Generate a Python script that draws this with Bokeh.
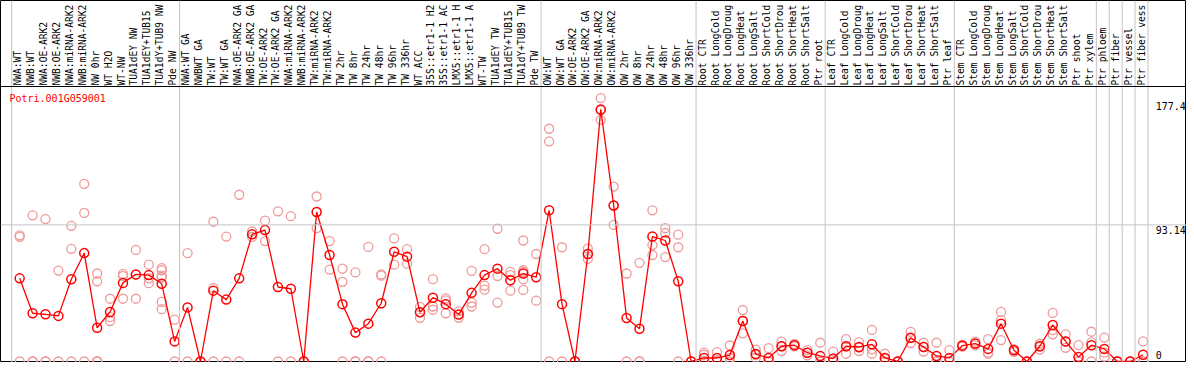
import math
from bokeh.plotting import figure
from bokeh.models import Range1d, Span, Label, ColumnDataSource
from bokeh.core.properties import value
from bokeh.embed import file_html
from bokeh.resources import INLINE

# ---------------- data ----------------
gene_id = "Potri.001G059001"

labels = [
    "NWA:WT", "NWB:WT", "NWA:OE-ARK2", "NWB:OE-ARK2", "NWA:miRNA-ARK2", "NWB:miRNA-ARK2",
    "NW 0hr", "WT H2O", "WT-NW", "TUA1dEY NW", "TUA1dEY+TUB15", "TUA1dY+TUB9 NW", "Pde NW",
    "NWA:WT GA", "NWBWT GA", "TW:WT", "TW:WT GA", "NWA:OE-ARK2 GA", "NWB:OE-ARK2 GA",
    "TW:OE-ARK2", "TW:OE-ARK2 GA", "NWA:miRNA-ARK2", "NWB:miRNA-ARK2", "TW:miRNA-ARK2",
    "TW:miRNA-ARK2", "TW 2hr", "TW 8hr", "TW 24hr", "TW 48hr", "TW 96hr", "TW 336hr",
    "WT ACC", "35S::etr1-1 H2", "35S::etr1-1 AC", "LMX5::etr1-1 H", "LMX5::etr1-1 A",
    "WT-TW", "TUA1dEY TW", "TUA1dEY+TUB15", "TUA1dY+TUB9 TW", "Pde TW",
    "OW:WT", "OW:WT GA", "OW:OE-ARK2", "OW:OE-ARK2 GA", "OW:miRNA-ARK2", "OW:miRNA-ARK2",
    "OW 2hr", "OW 8hr", "OW 24hr", "OW 48hr", "OW 96hr", "OW 336hr",
    "Root CTR", "Root LongCold", "Root LongDroug", "Root LongHeat", "Root LongSalt",
    "Root ShortCold", "Root ShortDrou", "Root ShortHeat", "Root ShortSalt", "Ptr root",
    "Leaf CTR", "Leaf LongCold", "Leaf LongDroug", "Leaf LongHeat", "Leaf LongSalt",
    "Leaf ShortCold", "Leaf ShortDrou", "Leaf ShortHeat", "Leaf ShortSalt", "Ptr leaf",
    "Stem CTR", "Stem LongCold", "Stem LongDroug", "Stem LongHeat", "Stem LongSalt",
    "Stem ShortCold", "Stem ShortDrou", "Stem ShortHeat", "Stem ShortSalt", "Ptr shoot",
    "Ptr xylem", "Ptr phloem", "Ptr fiber", "Ptr vessel", "Ptr fiber vess",
]

# number of samples in each bordered group
group_sizes = [13, 28, 12, 10, 10, 11, 1, 1, 1, 1]

means = [
    56.7, 32.9, 32.2, 31.1, 56.1, 73.9, 23.0, 33.8, 53.6, 59.4,
    58.9, 53.0, 13.7, 36.9, 0.0, 48.3, 42.2, 56.7, 86.7, 89.6,
    50.8, 49.6, 0.0, 101.9, 72.6, 39.1, 19.7, 25.8, 39.7, 74.8,
    71.5, 33.6, 43.5, 39.1, 32.0, 46.8, 58.9, 63.3, 55.4, 60.0,
    57.5, 103.1, 39.1, 0.0, 73.3, 171.9, 106.4, 29.6, 22.3, 85.2,
    82.5, 54.7, 0.0, 2.4, 2.4, 4.4, 27.6, 5.1, 2.4, 10.4,
    11.1, 6.0, 3.8, 2.0, 10.4, 9.9, 11.7, 2.4, 0.0, 16.2,
    9.9, 3.8, 2.4, 10.8, 12.2, 8.6, 25.8, 7.7, 0.0, 10.4,
    24.9, 13.7, 3.1, 11.1, 8.6, 0.0, 0.0, 4.6,
]

replicates = [
    [86.0, 85.0, 0], [99.7, 0, 0], [97.1, 0, 0], [62.0, 0], [92.5, 76.8, 0],
    [121.1, 101.3, 0], [60.0, 54.7, 0, 0, 0], [42.8, 30.2, 27.6], [58.3, 42.8, 59.7],
    [76.1, 42.8, 59.3], [66.0, 56.7, 53.4], [63.7, 62.2, 57.4, 58.5, 40.6, 35.7],
    [28.5, 0], [73.9, 0], [0, 0], [95.3, 50.1, 0], [85.2, 0], [113.7, 0],
    [88.7, 84.9], [96.0, 82.1], [102.4, 0], [99.1, 0], [0, 0], [112.5, 90.9],
    [82.1, 62.7], [63.3, 54.3, 0], [60.7, 0, 0], [78.1, 0, 0], [59.4, 58.5, 0],
    [83.9, 66.0], [76.6, 66.7], [37.3, 29.8, 33.7], [56.1, 37.5, 35.3],
    [43.0, 41.7, 32.9], [34.2, 29.8], [61.8, 40.2, 37.5], [76.6, 51.8, 49.0],
    [90.5, 58.3, 40.2], [61.1, 58.9, 48.3], [82.5, 62.2, 61.1, 56.1, 48.8],
    [73.3, 41.5], [158.7, 150.1, 0], [77.9, 0], [0, 0], [77.0, 73.3, 70.0],
    [179.6, 171.3, 164.8], [119.2, 106.4, 93.1], [60.0, 0], [67.3, 0, 0],
    [103.1, 79.4, 72.6], [90.9, 87.6, 71.2], [86.5, 77.9, 0], [0, 0],
    [6.0, 4.6, 0.5], [6.4, 1.0, 0], [10.9, 2.4, 0], [35.1, 27.6, 19.2],
    [8.1, 4.6, 2.6], [9.1, 0, 0], [13.5, 10.4, 7.1], [12.0, 11.1, 10.3],
    [7.7, 6.0, 4.2], [12.8, 0, 0], [6.8, 0, 0], [15.2, 10.4, 5.3],
    [13.2, 9.5, 7.1], [21.5, 8.3, 5.3], [5.3, 2.0, 0], [0, 0],
    [20.2, 16.0, 12.6], [12.8, 10.0, 6.8], [12.8, 0, 0], [7.7, 0, 0],
    [11.5, 10.8, 10.1], [13.5, 12.2, 11.0], [15.2, 6.0, 5.3], [33.8, 28.0, 14.6],
    [8.5, 7.7, 6.5], [0, 0], [12.1, 10.4, 8.1], [33.1, 21.4, 18.5],
    [18.5, 13.5, 9.3], [11.1, 0, 0], [20.3, 13.0, 0], [16.3, 6.0, 3.3],
    [0, 0], [0, 0], [13.7, 0, 0],
]

tick_values = [0, 93.14, 177.4]
tick_labels = ["0", "93.14", "177.4"]

# ---------------- figure ----------------
W, H = 1186, 362
idx = list(range(len(labels)))

p = figure(
    width=W, height=H, output_backend="svg", toolbar_location=None,
    x_axis_type=None, y_axis_type=None,
    x_range=Range1d(-1.4846, 90.3615), y_range=Range1d(-0.682, 246.14),
    min_border=0, outline_line_color="black", outline_line_width=1,
    background_fill_color="white", border_fill_color="white",
)

GRID = "#c4c4c4"
RED = "#ff0000"
PINK = "#ee9a9a"
FONT = "DejaVu Sans Mono"

# group separator lines (vertical, full height)
start = 0
bounds = [0]
for g in group_sizes:
    start += g
    bounds.append(start)
for b in bounds:
    p.add_layout(Span(location=b - 0.62, dimension="height", line_color=GRID, line_width=1))

# horizontal grid line at middle tick
p.add_layout(Span(location=tick_values[1], dimension="width", line_color=GRID, line_width=1))

# separator between label band and plot area
label_band = 187.5
p.add_layout(Span(location=label_band, dimension="width", line_color="black", line_width=1))

# replicates
rx, ry = [], []
for i, reps in enumerate(replicates):
    for v in reps:
        rx.append(i)
        ry.append(v)
p.scatter(x=rx, y=ry, marker="circle", size=9, fill_color=None,
          line_color=PINK, line_width=1.3)

# mean line + markers
p.line(x=idx, y=means, line_color=RED, line_width=1.3)
p.scatter(x=idx, y=means, marker="circle", size=9, fill_color=None,
          line_color=RED, line_width=1.5)

# rotated category labels
src = ColumnDataSource(dict(x=[i - 0.15 for i in idx], y=[188.2] * len(idx), t=labels))
p.text(x="x", y="y", text="t", source=src, angle=math.pi / 2,
       text_align="left", text_baseline="middle",
       text_font=value(FONT), text_font_size="9.6px", text_color="black")

# gene id
p.add_layout(Label(x=-0.79, y=179.6, text=gene_id, text_color=RED,
                   text_font=FONT, text_font_size="10px", text_baseline="middle"))

# value labels on the right
for v, t in zip(tick_values, tick_labels):
    if v == 0:
        p.add_layout(Label(x=87.98, y=v, text=t, text_font=FONT, text_font_size="10px",
                           text_baseline="bottom", y_offset=2, text_color="black"))
    else:
        p.add_layout(Label(x=87.98, y=v, text=t, text_font=FONT, text_font_size="10px",
                           text_baseline="top", y_offset=-1, text_color="black"))

open("out.html", "w").write(file_html(p, INLINE))
